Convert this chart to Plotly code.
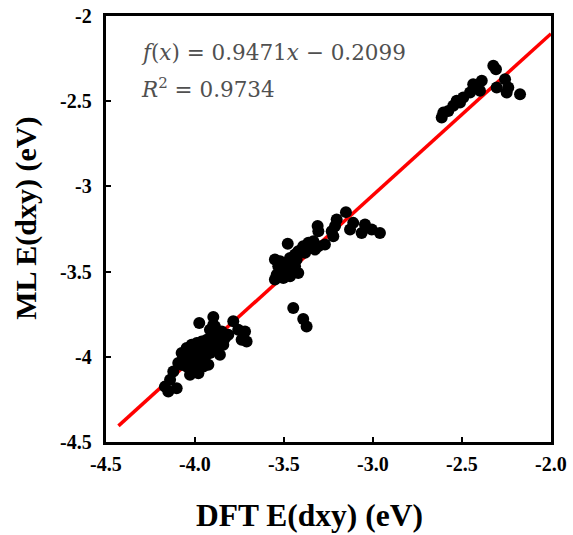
import plotly.graph_objects as go

# DFT (x) and ML (y) values, eV
dft = [
    # low cluster
    -3.976, -3.897, -3.897, -3.785, -3.757, -3.719, -3.738, -3.710, -3.860,
    -4.122, -4.140, -4.169, -4.150, -4.103,
    -4.075, -4.047, -4.019, -3.990, -3.962, -3.934, -3.906, -3.878, -3.850,
    -3.831, -3.878, -3.916, -3.953, -3.990, -4.028, -4.066, -4.075, -4.047,
    -4.010, -3.972, -3.944, -3.916, -4.019, -3.990, -3.953, -3.925, -4.047,
    -4.010, -3.972, -3.925, -3.878, -3.841, -3.813, -3.916, -3.888, -4.066,
    -4.094, -4.028, -3.981,
    # middle cluster
    -3.448, -3.392, -3.373, -3.152, -3.111, -3.129, -3.045, -3.064, -3.007,
    -2.961, -3.204, -3.213, -3.232, -3.223, -3.311, -3.307, -3.479, -3.270,
    -3.551, -3.532, -3.541, -3.551, -3.513, -3.485, -3.494, -3.466, -3.438,
    -3.420, -3.392, -3.363, -3.335, -3.307, -3.326, -3.382, -3.429, -3.457,
    -3.476, -3.438, -3.420, -3.504, -3.522, -3.401, -3.354, -3.466,
    # upper cluster
    -2.324, -2.309, -2.258, -2.240, -2.249, -2.305, -2.174, -2.389, -2.437,
    -2.399, -2.455, -2.493, -2.511, -2.549, -2.577, -2.605, -2.614, -2.530,
]
ml = [
    -3.802, -3.766, -3.812, -3.792, -3.841, -3.851, -3.900, -3.910, -3.988,
    -4.086, -4.135, -4.175, -4.204, -4.184,
    -3.978, -3.949, -3.929, -3.919, -3.910, -3.900, -3.881, -3.861, -3.851,
    -3.890, -3.910, -3.929, -3.959, -3.978, -3.998, -4.018, -4.047, -4.057,
    -4.037, -4.018, -3.998, -3.978, -4.086, -4.076, -4.057, -4.047, -4.028,
    -3.969, -3.939, -3.939, -3.939, -3.929, -3.871, -3.841, -3.822, -3.998,
    -4.037, -4.106, -4.096,
    -3.714, -3.778, -3.822, -3.151, -3.214, -3.253, -3.224, -3.273, -3.253,
    -3.273, -3.194, -3.233, -3.263, -3.292, -3.233, -3.263, -3.337, -3.341,
    -3.429, -3.469, -3.518, -3.547, -3.498, -3.518, -3.449, -3.420, -3.400,
    -3.381, -3.351, -3.331, -3.322, -3.351, -3.371, -3.390, -3.429, -3.459,
    -3.488, -3.469, -3.508, -3.537, -3.439, -3.371, -3.361, -3.527,
    -2.292, -2.312, -2.371, -2.420, -2.449, -2.420, -2.459, -2.380, -2.400,
    -2.439, -2.449, -2.478, -2.508, -2.527, -2.557, -2.567, -2.596, -2.498,
]

slope = 0.9471
intercept = -0.2099
r2 = 0.9734
fit_x = [-4.43, -2.0]
fit_y = [slope * v + intercept for v in fit_x]

x_ticks = [-4.5, -4.0, -3.5, -3.0, -2.5, -2.0]
x_tick_text = ["-4.5", "-4.0", "-3.5", "-3.0", "-2.5", "-2.0"]
y_ticks = [-4.5, -4.0, -3.5, -3.0, -2.5, -2.0]
y_tick_text = ["-4.5", "-4", "-3.5", "-3", "-2.5", "-2"]
x_title = "DFT E(dxy) (eV)"
y_title = "ML E(dxy) (eV)"

SERIF = "Liberation Serif"

fig = go.Figure()
fig.add_trace(go.Scatter(x=fit_x, y=fit_y, mode="lines",
                         line=dict(color="#ff0000", width=3.5),
                         showlegend=False, hoverinfo="skip"))
fig.add_trace(go.Scatter(x=dft, y=ml, mode="markers",
                         marker=dict(color="black", size=12),
                         showlegend=False))

tick_font = dict(family=SERIF, size=20, color="black")
xtitle_font = dict(family=SERIF, size=31.5, color="black")
ytitle_font = dict(family=SERIF, size=30, color="black")

axis_style = dict(range=[-4.5, -2.0], tickmode="array",
                  showline=True, linewidth=3, linecolor="black", mirror=True,
                  ticks="inside", ticklen=5, tickwidth=1.5, tickcolor="black",
                  showgrid=False, zeroline=False, showticklabels=False)
fig.update_xaxes(tickvals=x_ticks, **axis_style)
fig.update_yaxes(tickvals=y_ticks, **axis_style)

# bold serif tick labels, placed at the axis tick values
for v, t in zip(x_ticks, x_tick_text):
    fig.add_annotation(xref="x", yref="paper", x=v, y=-0.051,
                       xanchor="center", yanchor="middle", showarrow=False,
                       text=f"<b>{t}</b>", font=tick_font)
for v, t in zip(y_ticks, y_tick_text):
    fig.add_annotation(xref="paper", yref="y", x=-0.027, y=v,
                       xanchor="right", yanchor="middle", showarrow=False,
                       text=f"<b>{t}</b>", font=tick_font)

fig.add_annotation(xref="paper", yref="paper", x=0.458, y=-0.173,
                   xanchor="center", yanchor="middle", showarrow=False,
                   text=f"<b>{x_title}</b>", font=xtitle_font)
fig.add_annotation(xref="paper", yref="paper", x=-0.18, y=0.526,
                   xanchor="center", yanchor="middle", showarrow=False,
                   textangle=-90, text=f"<b>{y_title}</b>", font=ytitle_font)

ann_font = dict(family="DejaVu Serif", size=21.5, color="#505050")
fig.add_annotation(xref="paper", yref="paper", x=0.075, y=0.914,
                   xanchor="left", yanchor="middle", showarrow=False,
                   text=f"<i>f</i>(<i>x</i>) = {slope}<i>x</i> − {abs(intercept)}",
                   font=ann_font)
fig.add_annotation(xref="paper", yref="paper", x=0.075, y=0.832,
                   xanchor="left", yanchor="middle", showarrow=False,
                   text=f"<i>R</i><sup>2</sup> = {r2}",
                   font=ann_font)

fig.update_layout(width=573, height=535,
                  font=dict(family=SERIF, color="black"),
                  margin=dict(l=106, r=22, t=16, b=93),
                  paper_bgcolor="white", plot_bgcolor="white")

fig.write_html("out.html")
